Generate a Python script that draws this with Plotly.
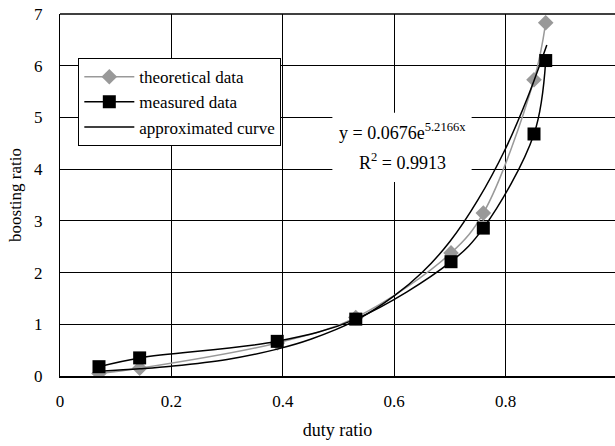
import plotly.graph_objects as go

duty_theory = [0.07, 0.143, 0.39, 0.531, 0.702, 0.76, 0.851, 0.872]
boost_theory = [0.05, 0.15, 0.64, 1.13, 2.38, 3.15, 5.73, 6.83]

duty_measured = [0.07, 0.143, 0.39, 0.531, 0.702, 0.76, 0.851, 0.872]
boost_measured = [0.18, 0.35, 0.67, 1.10, 2.21, 2.86, 4.68, 6.10]

duty_approx = [0.07, 0.143, 0.2, 0.3, 0.39, 0.45, 0.53, 0.6, 0.65, 0.7, 0.75, 0.8, 0.84, 0.874]
boost_approx = [0.09, 0.14, 0.19, 0.32, 0.52, 0.71, 1.07, 1.55, 2.0, 2.6, 3.4, 4.4, 5.4, 6.4]

x_ticks = [0, 0.2, 0.4, 0.6, 0.8]
y_ticks = [0, 1, 2, 3, 4, 5, 6, 7]

FONT = "Liberation Serif, Times New Roman, serif"

fig = go.Figure()
fig.add_trace(go.Scatter(
    x=duty_theory, y=boost_theory, name="theoretical data",
    mode="lines+markers", line=dict(color="#999999", width=1.5, shape="spline"),
    marker=dict(symbol="diamond", size=12, color="#999999")))
fig.add_trace(go.Scatter(
    x=duty_measured, y=boost_measured, name="measured data",
    mode="lines+markers", line=dict(color="black", width=1.5, shape="spline"),
    marker=dict(symbol="square", size=13, color="black")))
fig.add_trace(go.Scatter(
    x=duty_approx, y=boost_approx, name="approximated curve",
    mode="lines", line=dict(color="black", width=1.5, shape="spline")))

fig.update_layout(
    width=615, height=446,
    margin=dict(l=60, r=0, t=14, b=70),
    paper_bgcolor="white", plot_bgcolor="white",
    font=dict(family=FONT, size=17, color="black"),
    showlegend=True,
    legend=dict(
        x=0.033, y=0.878, xanchor="left", yanchor="top",
        bgcolor="white", bordercolor="black", borderwidth=1,
        font=dict(family=FONT, size=17),
        itemwidth=50, tracegroupgap=0,
    ),
    xaxis=dict(
        range=[0, 0.9964], tickvals=x_ticks, ticktext=[f"{v:g}" for v in x_ticks],
        showgrid=True, gridcolor="black", gridwidth=1,
        showline=True, linecolor="black", linewidth=2,
        ticks="", ticklabelstandoff=9, zeroline=False,
        title=dict(text="duty ratio", font=dict(family=FONT, size=18), standoff=13),
        tickfont=dict(family=FONT, size=17),
    ),
    yaxis=dict(
        range=[0, 7], tickvals=y_ticks,
        showgrid=True, gridcolor="black", gridwidth=1,
        showline=True, linecolor="black", linewidth=1,
        ticks="", ticklabelstandoff=13, zeroline=False,
        title=dict(text="boosting ratio", font=dict(family=FONT, size=17), standoff=8),
        tickfont=dict(family=FONT, size=17),
    ),
    shapes=[
        dict(type="line", xref="paper", yref="paper", x0=0, x1=1, y0=1, y1=1,
             line=dict(color="black", width=1.5)),
        dict(type="rect", xref="x", yref="y", x0=0.489, x1=0.739, y0=3.75, y1=5.09,
             fillcolor="white", line=dict(width=0), layer="between"),
    ],
    annotations=[
        dict(x=0.614, y=4.72, xref="x", yref="y", showarrow=False,
             text="y = 0.0676e<sup>5.2166x</sup>", font=dict(family=FONT, size=18)),
        dict(x=0.614, y=4.15, xref="x", yref="y", showarrow=False,
             text="R<sup>2</sup> = 0.9913", font=dict(family=FONT, size=18)),
    ],
)

fig.write_html("out.html")
